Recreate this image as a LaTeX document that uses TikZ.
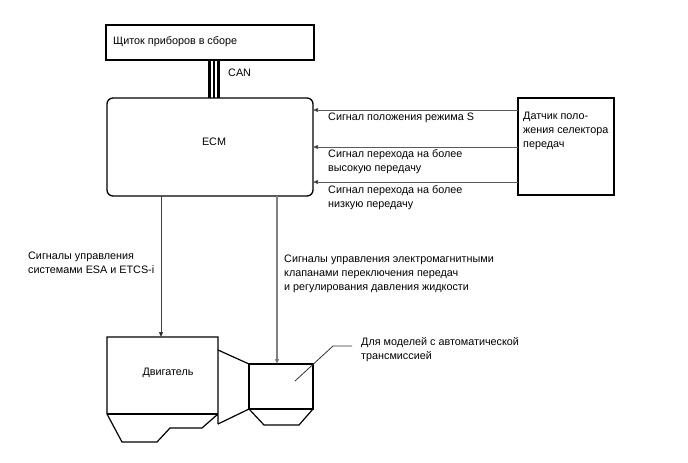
\documentclass[tikz,border=0pt]{standalone}
\usepackage{fontspec}
\setmainfont{Liberation Sans}
\usetikzlibrary{arrows.meta}
\begin{document}
\begin{tikzpicture}[x=1pt,y=-1pt,
  box/.style={draw=black,line width=1.3pt},
  lbl/.style={anchor=base west,inner sep=0pt,font=\fontsize{10.8}{13}\selectfont},
  sig/.style={draw=black!65,line width=0.9pt,-{Triangle[length=5pt,width=4pt,fill=black]}},
  shp/.style={draw=black,line width=1.2pt,line join=miter}]
\useasboundingbox[fill=white] (0,0) rectangle (688,463);
% top box
\node[box,minimum width=208pt,minimum height=35pt,inner sep=0pt] (top) at (210,42.5) {};
\node[lbl] (toptxt) at (113,44) {Щиток приборов в сборе};
% ECM
\node[box,rounded corners=6pt,minimum width=206pt,minimum height=98pt,inner sep=0pt] (ecm) at (210,147) {};
\node[font=\fontsize{10.8}{13}\selectfont,inner sep=0pt] (ecmtxt) at (214,142) {ECM};
% CAN bus
\coordinate (c1t) at (209.5,60); \coordinate (c1b) at (209.5,98);
\coordinate (c2t) at (214,60); \coordinate (c2b) at (214,98);
\coordinate (c3t) at (218.5,60); \coordinate (c3b) at (218.5,98);
\draw[line width=2.6pt] (c1t) -- (c1b);
\draw[line width=1.2pt] (c2t) -- (c2b);
\draw[line width=2.6pt] (c3t) -- (c3b);
\node[lbl] (can) at (228,76) {CAN};
% sensor
\node[box,minimum width=96pt,minimum height=97pt,inner sep=0pt] (sen) at (566,146.5) {};
\node[lbl] (s1) at (523,119) {Датчик поло-};
\node[lbl] (s2) at (523,133) {жения селектора};
\node[lbl] (s3) at (523,147) {передач};
% signal arrows
\coordinate (a1s) at (518,110); \coordinate (a1e) at (313,110);
\coordinate (a2s) at (518,147); \coordinate (a2e) at (313,147);
\coordinate (a3s) at (518,182); \coordinate (a3e) at (313,182);
\draw[sig] (a1s) -- (a1e);
\draw[sig] (a2s) -- (a2e);
\draw[sig] (a3s) -- (a3e);
\node[lbl] (l1) at (328,120) {Сигнал положения режима S};
\node[lbl] (l2a) at (328,157) {Сигнал перехода на более};
\node[lbl] (l2b) at (328,171) {высокую передачу};
\node[lbl] (l3a) at (328,193) {Сигнал перехода на более};
\node[lbl] (l3b) at (328,207) {низкую передачу};
% engine
\draw[shp] (218,424) -- (218,337) -- (107,337) -- (107,414) -- (122,442) -- (157,442) -- (170,428) -- (202,428) -- (218,414);
\draw[shp] (107,414) -- (218,414);
\node[font=\fontsize{10.8}{13}\selectfont,inner sep=0pt] (eng) at (168,373) {Двигатель};
% bellhousing
\draw[shp] (218,350) -- (249,364);
\draw[shp] (218,424) -- (249,409);
% transmission
\draw[shp] (249,364) rectangle (313,409);
\draw[shp] (249,409) -- (264,425) -- (299,425) -- (313,409);
% down arrows
\coordinate (d1s) at (161,196); \coordinate (d1e) at (161,337);
\coordinate (d2s) at (277,196); \coordinate (d2e) at (277,364);
\draw[draw=black!75,line width=0.7pt,-{Triangle[length=5pt,width=4pt,fill=black]}] (d1s) -- (d1e);
\draw[draw=black!50,line width=1.1pt,-{Triangle[length=5pt,width=4pt,fill=black]}] (d2s) -- (d2e);
\node[lbl] (dl1) at (28,259) {Сигналы управления};
\node[lbl] (dl2) at (28,273) {системами ESA и ETCS-i};
\node[lbl] (dr1) at (284,262) {Сигналы управления электромагнитными};
\node[lbl] (dr2) at (284,276) {клапанами переключения передач};
\node[lbl] (dr3) at (284,290) {и регулирования давления жидкости};
% note
\coordinate (n1) at (352,346); \coordinate (n2) at (333,346); \coordinate (n3) at (295,381);
\draw[black!80,line width=0.8pt] (n1) -- (n2) -- (n3);
\node[lbl] (nt1) at (361,345) {Для моделей с автоматической};
\node[lbl] (nt2) at (361,359) {трансмиссией};
\end{tikzpicture}
\end{document}
